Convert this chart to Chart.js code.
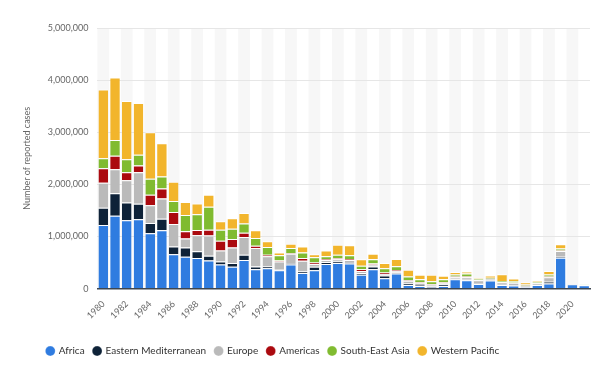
<!DOCTYPE html>
<html>
<head>
<meta charset="utf-8">
<script src="https://cdn.jsdelivr.net/npm/chart.js@4.4.1/dist/chart.umd.min.js"></script>
<style>
html,body{margin:0;padding:0;background:#fff;}
#wrap{width:600px;height:370px;}
</style>
</head>
<body>
<div id="wrap"><canvas id="c" width="600" height="370"></canvas></div>
<script>
const years = [1980,1981,1982,1983,1984,1985,1986,1987,1988,1989,1990,1991,1992,1993,1994,1995,1996,1997,1998,1999,2000,2001,2002,2003,2004,2005,2006,2007,2008,2009,2010,2011,2012,2013,2014,2015,2016,2017,2018,2019,2020,2021];

const africa = [1220000,1400000,1310000,1330000,1060000,1120000,660000,610000,585000,540000,460000,420000,550000,370000,390000,350000,460000,300000,350000,470000,490000,480000,265000,370000,200000,290000,70000,50000,20000,50000,180000,160000,90000,155000,70000,60000,20000,70000,100000,590000,85000,65000];
const easternMediterranean = [330000,430000,340000,300000,200000,220000,150000,180000,130000,90000,60000,70000,100000,55000,35000,10000,30000,30000,70000,40000,30000,30000,35000,55000,50000,20000,30000,20000,20000,30000,10000,10000,10000,10000,10000,10000,5000,5000,30000,20000,3000,3000];
const europe = [480000,460000,430000,600000,340000,390000,430000,170000,310000,390000,210000,300000,340000,355000,195000,160000,180000,205000,50000,40000,45000,40000,40000,35000,30000,30000,50000,40000,40000,30000,30000,50000,60000,20000,40000,40000,30000,30000,90000,110000,2000,2000];
const americas = [280000,260000,150000,130000,200000,190000,230000,140000,100000,110000,190000,160000,80000,40000,30000,20000,10000,50000,30000,15000,15000,20000,30000,20000,30000,10000,10000,10000,10000,10000,10000,10000,5000,5000,5000,5000,5000,5000,10000,10000,1000,1000];
const southEastAsia = [190000,300000,250000,210000,310000,230000,210000,310000,300000,440000,210000,200000,180000,150000,150000,100000,100000,110000,100000,55000,70000,70000,70000,85000,80000,80000,70000,60000,50000,60000,40000,60000,15000,20000,20000,30000,20000,20000,40000,40000,2000,2000];
const westernPacific = [1320000,1200000,1120000,990000,890000,640000,370000,250000,210000,230000,160000,200000,200000,150000,110000,55000,80000,115000,60000,110000,190000,190000,125000,105000,100000,140000,130000,85000,125000,65000,50000,40000,20000,40000,130000,50000,40000,20000,70000,80000,2000,2000];

const seriesNames = ['Africa','Eastern Mediterranean','Europe','Americas','South-East Asia','Western Pacific'];
const seriesColors = ['#2f7ce0','#0e2238','#bababa','#ab0a0f','#80bb30','#f2b52c'];
const seriesData = [africa, easternMediterranean, europe, americas, southEastAsia, westernPacific];
const yTicks = [0,1000000,2000000,3000000,4000000,5000000];

const stripes = {
  id: 'stripes',
  beforeDraw(chart) {
    const {ctx, chartArea, scales} = chart;
    const x = scales.x;
    const half = (x.getPixelForValue(1) - x.getPixelForValue(0)) / 2;
    ctx.save();
    ctx.fillStyle = '#f7f7f7';
    for (let i = 0; i < years.length; i += 2) {
      const c = x.getPixelForValue(i);
      ctx.fillRect(c - half, chartArea.top, half * 2, chartArea.bottom - chartArea.top);
    }
    ctx.restore();
  }
};

const legendShift = {
  id: 'legendShift',
  afterLayout(chart) {
    if (chart.legend) {
      chart.legend.left -= 66;
    }
  }
};

new Chart(document.getElementById('c'), {
  type: 'bar',
  data: {
    labels: years,
    datasets: seriesNames.map((n, i) => ({
      label: n,
      data: seriesData[i],
      backgroundColor: seriesColors[i],
      borderColor: '#ffffff',
      borderWidth: {top: 1, bottom: 0, left: 0, right: 0},
      borderSkipped: false,
      barPercentage: 0.82,
      categoryPercentage: 1.0
    }))
  },
  options: {
    responsive: false,
    animation: false,
    devicePixelRatio: 1,
    layout: {padding: {left: 22, right: 10, top: 28, bottom: 4}},
    plugins: {
      tooltip: {enabled: false},
      legend: {
        position: 'bottom',
        labels: {
          usePointStyle: true,
          pointStyle: 'circle',
          boxWidth: 7,
          boxHeight: 7,
          padding: 9,
          color: '#333',
          font: {family: 'Lato', size: 10}
        }
      }
    },
    scales: {
      x: {
        stacked: true,
        grid: {display: false},
        border: {display: true, color: '#3d4650', width: 1.5},
        afterFit(scale) { scale.height += 14; },
        ticks: {
          autoSkip: false,
          maxRotation: 45,
          minRotation: 45,
          color: '#666',
          padding: 2,
          font: {family: 'Lato', size: 9},
          callback: function(v, i) { return i % 2 === 0 ? years[i] : ''; }
        }
      },
      y: {
        stacked: true,
        min: 0,
        max: 5000000,
        afterBuildTicks(axis) { axis.ticks = yTicks.map(v => ({value: v})); },
        grid: {color: '#e6e6e6', drawTicks: false},
        border: {display: false},
        ticks: {
          color: '#666',
          padding: 9,
          font: {family: 'Lato', size: 9},
          callback: v => v.toLocaleString('en-US')
        },
        title: {
          display: true,
          text: 'Number of reported cases',
          color: '#666',
          font: {family: 'Lato', size: 9},
          padding: {top: 0, bottom: 6}
        }
      }
    }
  },
  plugins: [stripes, legendShift]
});
</script>
</body>
</html>
